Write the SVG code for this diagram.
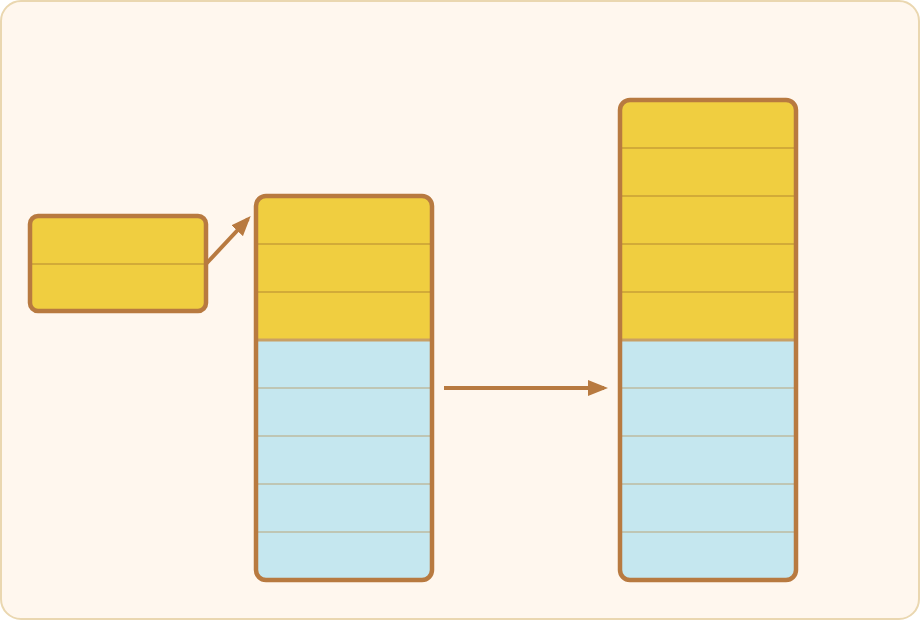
<svg xmlns="http://www.w3.org/2000/svg" width="920" height="620" viewBox="0 0 920 620">
<style>
.frame{fill:none;stroke:#B87A40;stroke-width:4.5}
.y{fill:#F0CE40}
.b{fill:#C5E7EF}
.dy{stroke:#D2AB38;stroke-width:2}
.db{stroke:#BFC6B4;stroke-width:2}
.bd{stroke:#C9A064;stroke-width:3}
.conn{stroke:#B87A40;stroke-width:4;fill:none}
</style>
<defs>
<marker id="ah" markerWidth="5" markerHeight="4" refX="4" refY="2" orient="auto" markerUnits="strokeWidth">
<path d="M0,0 L5,2 L0,4 z" fill="#B87A40"/>
</marker>
<clipPath id="c1"><rect x="30" y="216" width="176" height="95" rx="8"/></clipPath>
<clipPath id="c2"><rect x="256" y="196" width="176" height="384" rx="10"/></clipPath>
<clipPath id="c3"><rect x="620" y="100" width="176" height="480" rx="10"/></clipPath>
</defs>
<rect x="1" y="1" width="918" height="618" rx="20" fill="#FFF7EE" stroke="#EAD7B0" stroke-width="2"/>
<g id="node-small">
<g clip-path="url(#c1)">
<rect class="y" x="30" y="216" width="176" height="95"/>
<line class="dy" x1="30" y1="264" x2="206" y2="264"/>
</g>
<rect class="frame" x="30" y="216" width="176" height="95" rx="8"/>
</g>
<g id="node-middle">
<g clip-path="url(#c2)">
<rect class="y" x="256" y="196" width="176" height="144"/>
<rect class="b" x="256" y="340" width="176" height="240"/>
<line class="dy" x1="256" y1="244" x2="432" y2="244"/>
<line class="dy" x1="256" y1="292" x2="432" y2="292"/>
<line class="bd" x1="256" y1="340" x2="432" y2="340"/>
<line class="db" x1="256" y1="388" x2="432" y2="388"/>
<line class="db" x1="256" y1="436" x2="432" y2="436"/>
<line class="db" x1="256" y1="484" x2="432" y2="484"/>
<line class="db" x1="256" y1="532" x2="432" y2="532"/>
</g>
<rect class="frame" x="256" y="196" width="176" height="384" rx="10"/>
</g>
<g id="node-right">
<g clip-path="url(#c3)">
<rect class="y" x="620" y="100" width="176" height="240"/>
<rect class="b" x="620" y="340" width="176" height="240"/>
<line class="dy" x1="620" y1="148" x2="796" y2="148"/>
<line class="dy" x1="620" y1="196" x2="796" y2="196"/>
<line class="dy" x1="620" y1="244" x2="796" y2="244"/>
<line class="dy" x1="620" y1="292" x2="796" y2="292"/>
<line class="bd" x1="620" y1="340" x2="796" y2="340"/>
<line class="db" x1="620" y1="388" x2="796" y2="388"/>
<line class="db" x1="620" y1="436" x2="796" y2="436"/>
<line class="db" x1="620" y1="484" x2="796" y2="484"/>
<line class="db" x1="620" y1="532" x2="796" y2="532"/>
</g>
<rect class="frame" x="620" y="100" width="176" height="480" rx="10"/>
</g>
<g id="connectors">
<line class="conn" x1="206" y1="264" x2="248" y2="219" marker-end="url(#ah)"/>
<line class="conn" x1="444" y1="388" x2="604" y2="388" marker-end="url(#ah)"/>
</g>
</svg>
